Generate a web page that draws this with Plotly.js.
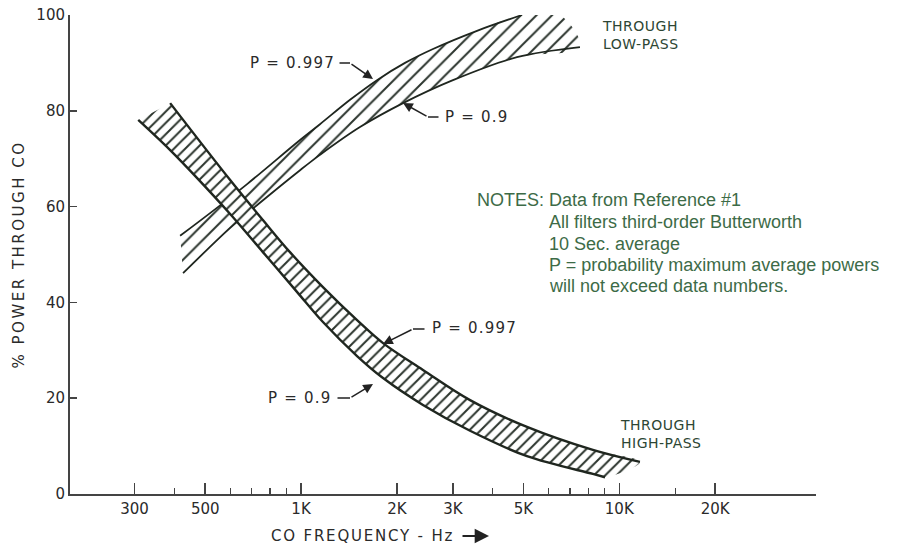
<!DOCTYPE html>
<html><head><meta charset="utf-8">
<script src="https://cdn.plot.ly/plotly-3.0.1.min.js"></script>
<style>html,body{margin:0;padding:0;background:#fff;}#chart{width:919px;height:547px;}</style>
</head><body><div id="chart"></div>
<script>
// ---- data ----
// Through high-pass band
const hpFreqUpper = [388, 598, 759, 923, 1172, 1500, 1810, 2416, 3397, 5128, 8260, 11610];
const hpUpper     = [81.6, 65.6, 57.2, 50.5, 43.2, 36.3, 31.5, 25.9, 19.6, 14.0, 9.2, 6.7];
const hpFreqLower = [308, 388, 471, 598, 759, 971, 1172, 1500, 1810, 2416, 3397, 5128, 8260, 9020];
const hpLower     = [78.1, 71.8, 66.0, 58.5, 50.5, 42.2, 35.9, 28.8, 24.2, 18.6, 13.2, 7.9, 4.2, 3.5];
// Through low-pass band
const lpFreqUpper = [417, 529, 677, 993, 1147, 1426, 1733, 2122, 2598, 3572, 4946];
const lpUpper     = [53.9, 59.1, 64.7, 73.9, 77.2, 82.3, 86.4, 90.0, 92.9, 96.7, 100.0];
const lpFreqLower = [426, 598, 743, 993, 1147, 1532, 2092, 3002, 4770, 7523];
const lpLower     = [46.1, 55.5, 60.8, 67.6, 70.8, 76.6, 81.6, 86.4, 91.2, 93.3];
const lpCapFreq   = [6500];
const lpCapVal    = [100.0];
// axes
const xTickVals  = [300, 500, 1000, 2000, 3000, 5000, 10000, 20000];
const xTickText  = ['300', '500', '1K', '2K', '3K', '5K', '10K', '20K'];
const xMinorVals = [400, 600, 700, 800, 900, 4000, 6000, 7000, 8000, 9000, 15000];
const yTickVals  = [0, 20, 40, 60, 80, 100];
const notesLines = ['All filters third-order Butterworth', '10 Sec. average',
                    'P = probability maximum average powers', 'will not exceed data numbers.'];

// ---- drawing ----
const INK = '#1f261f', HATCH = '#2c352e', LBL = '#2a2a2a', GRN = '#3d6b47', LBLG = '#2d4634';
const FONT = 'DejaVu Sans';
const L = 70, T = 15, W = 746, H = 479;
const px = x => (x - L) / W, py = y => (T + H - y) / H;
const spaced = (t, s) => '<span style="letter-spacing:' + s + 'px">' + t + '</span>';

function band(fu, vu, fl, vl, capF, capV, size, solidity, bg) {
  return {
    x: fu.concat(capF, fl.slice().reverse()),
    y: vu.concat(capV, vl.slice().reverse()),
    type: 'scatter', mode: 'lines', fill: 'toself',
    line: {width: 0, color: 'rgba(0,0,0,0)', shape: 'spline', smoothing: 1},
    fillcolor: bg,
    fillpattern: {shape: '/', size: size, solidity: solidity, fgcolor: HATCH, fgopacity: 1, fillmode: 'overlay'},
    hoverinfo: 'skip', showlegend: false
  };
}
function edge(f, v, w) {
  return {x: f, y: v, type: 'scatter', mode: 'lines',
    line: {color: INK, width: w, shape: 'spline', smoothing: 1},
    hoverinfo: 'skip', showlegend: false};
}

const traces = [
  band(lpFreqUpper, lpUpper, lpFreqLower, lpLower, lpCapFreq, lpCapVal, 11, 0.18, 'rgba(255,255,255,0)'),
  edge(lpFreqUpper, lpUpper, 1.8),
  edge(lpFreqLower, lpLower, 1.8),
  band(hpFreqUpper, hpUpper, hpFreqLower, hpLower, [], [], 8, 0.25, '#ffffff'),
  edge(hpFreqUpper, hpUpper, 2.4),
  edge(hpFreqLower, hpLower, 2.4)
];

function label(text, x, y, xanchor, size, color, family) {
  return {text: text, x: px(x), y: py(y), xref: 'paper', yref: 'paper', xanchor: xanchor,
    yanchor: 'middle', showarrow: false, align: 'left',
    font: {family: family || FONT, size: size, color: color}};
}
function arrow(tipX, tipY, tailX, tailY, head, w) {
  return {text: '', x: px(tipX), y: py(tipY), xref: 'paper', yref: 'paper',
    ax: tailX - tipX, ay: tailY - tipY, showarrow: true, arrowhead: head ? 2 : 0,
    arrowsize: 1.3, arrowwidth: w || 1.5, arrowcolor: '#222', standoff: 0, startstandoff: 0};
}

const annotations = [
  // low-pass P labels
  label(spaced('P = 0.997', 1.2), 337, 63, 'right', 15, LBL),
  arrow(350, 63, 338, 63, false), arrow(373, 79, 350, 63, true),
  label(spaced('P = 0.9', 1.2), 443, 117, 'left', 15, LBL),
  arrow(428, 117, 440, 117, false), arrow(403, 103, 428, 117, true),
  // high-pass P labels
  label(spaced('P = 0.997', 1.2), 430, 328, 'left', 15, LBL),
  arrow(413, 329, 426, 329, false), arrow(383, 344, 413, 329, true),
  label(spaced('P = 0.9', 1.2), 333, 398, 'right', 15, LBL),
  arrow(350, 398, 336, 398, false), arrow(373, 384, 350, 398, true),
  // band names
  label(spaced('THROUGH', 0.5) + '<br>' + spaced('LOW-PASS', 0.5), 600, 35, 'left', 14, LBLG),
  label(spaced('THROUGH', 0.5) + '<br>' + spaced('HIGH-PASS', 0.5), 618, 434, 'left', 14, LBLG),
  // notes
  label('NOTES: Data from Reference #1', 475, 200, 'left', 18, GRN, 'Liberation Sans'),
  label(notesLines[0], 547, 222, 'left', 18, GRN, 'Liberation Sans'),
  label(notesLines[1], 547, 244, 'left', 18, GRN, 'Liberation Sans'),
  label(notesLines[2], 547, 265, 'left', 18, GRN, 'Liberation Sans'),
  label(notesLines[3], 547, 286, 'left', 18, GRN, 'Liberation Sans'),
  // x title
  label(spaced('CO FREQUENCY - Hz', 1.8), 362, 536, 'center', 15, LBL),
  arrow(489, 536, 461, 536, true, 2.2)
];

const layout = {
  width: 919, height: 547,
  margin: {l: L, r: 919 - L - W, t: T, b: 547 - T - H},
  paper_bgcolor: '#ffffff', plot_bgcolor: '#ffffff',
  showlegend: false,
  xaxis: {
    type: 'log', range: [Math.log10(188), Math.log10(41500)],
    tickmode: 'array', tickvals: xTickVals, ticktext: xTickText,
    ticks: 'inside', ticklen: 11, tickwidth: 1.5, tickcolor: '#444',
    minor: {tickmode: 'array', tickvals: xMinorVals, ticks: 'inside', ticklen: 6, tickwidth: 1.5, tickcolor: '#444', showgrid: false},
    showline: true, linecolor: '#444', linewidth: 2,
    showgrid: false, zeroline: false, fixedrange: true,
    tickfont: {family: FONT, size: 15, color: LBL}
  },
  yaxis: {
    range: [0, 100], tickmode: 'array', tickvals: yTickVals,
    ticks: 'inside', ticklen: 7, tickwidth: 1.5, tickcolor: '#444',
    showline: true, linecolor: '#444', linewidth: 2,
    showgrid: false, zeroline: false, fixedrange: true,
    tickfont: {family: FONT, size: 15, color: LBL},
    title: {text: spaced('% POWER THROUGH CO', 2.5), font: {family: FONT, size: 15, color: LBL}, standoff: 8}
  },
  annotations: annotations
};

Plotly.newPlot('chart', traces, layout, {displayModeBar: false, staticPlot: true});
</script>
</body></html>
